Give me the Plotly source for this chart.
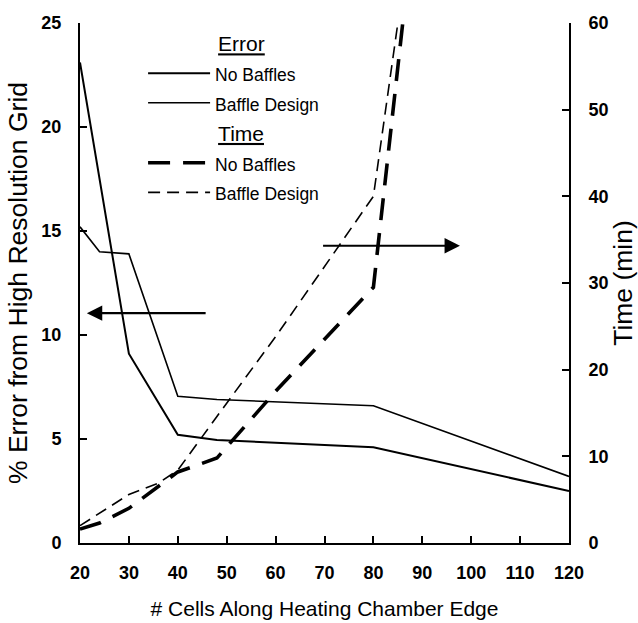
import plotly.graph_objects as go

# Error (% from high resolution grid), left axis
err_nb_x = [20, 30, 40, 48, 80, 120]
err_nb_y = [23.1, 9.1, 5.2, 4.95, 4.6, 2.5]
err_bd_x = [20, 24, 30, 40, 48, 80, 120]
err_bd_y = [15.2, 14.0, 13.9, 7.05, 6.9, 6.6, 3.2]

# Time (min), right axis
time_nb_x = [20, 24, 30, 40, 48, 60, 80, 86]
time_nb_y = [1.6, 2.3, 4.0, 8.2, 9.8, 17.5, 29.5, 60]
time_bd_x = [20, 30, 36, 40, 48, 60, 80, 85]
time_bd_y = [2.0, 5.6, 6.9, 8.4, 14.6, 23.8, 40.0, 60]

FONT = "Liberation Sans, Arial, sans-serif"
PAD = "&nbsp;" * 12

def lab(t):
    return '<span style="font-size:17.5px">' + t + '</span>'

fig = go.Figure()
fig.add_trace(go.Scatter(x=err_nb_x, y=err_nb_y, mode="lines", name=lab("No Baffles"),
                         line=dict(color="black", width=2.0),
                         legendgroup="err",
                         legendgrouptitle=dict(text=PAD + "<u>Error</u>")))
fig.add_trace(go.Scatter(x=err_bd_x, y=err_bd_y, mode="lines", name=lab("Baffle Design"),
                         line=dict(color="black", width=1.6),
                         legendgroup="err"))
fig.add_trace(go.Scatter(x=time_nb_x, y=time_nb_y, mode="lines", name=lab("No Baffles"),
                         line=dict(color="black", width=3.6, dash="22px,13px"),
                         legendgroup="time",
                         legendgrouptitle=dict(text=PAD + "<u>Time</u>"),
                         yaxis="y2"))
fig.add_trace(go.Scatter(x=time_bd_x, y=time_bd_y, mode="lines", name=lab("Baffle Design"),
                         line=dict(color="black", width=1.6, dash="12px,7px"),
                         legendgroup="time", yaxis="y2"))

# direction arrows
fig.add_annotation(x=21.4, y=11.05, ax=46, ay=11.05, xref="x", yref="y", axref="x", ayref="y",
                   text="", showarrow=True, arrowhead=2, arrowsize=1.4, arrowwidth=2.2, arrowcolor="black")
fig.add_annotation(x=97.7, y=34.3, ax=69.4, ay=34.3, xref="x", yref="y2", axref="x", ayref="y2",
                   text="", showarrow=True, arrowhead=2, arrowsize=1.4, arrowwidth=2.2, arrowcolor="black")

tickfont = dict(family=FONT, size=18, color="black", weight="bold")
xtitlefont = dict(family=FONT, size=21, color="black")
ytitlefont = dict(family=FONT, size=26.5, color="black")

fig.update_layout(
    width=638, height=623,
    margin=dict(l=80, r=69, t=23, b=80, autoexpand=False),
    paper_bgcolor="white", plot_bgcolor="white",
    font=dict(family=FONT, color="black"),
    xaxis=dict(range=[20, 120], dtick=10, tick0=20, showgrid=False, zeroline=False,
               showline=True, linecolor="black", linewidth=2, automargin=False,
               ticks="inside", ticklen=7, tickwidth=2, tickcolor="black",
               tickfont=tickfont, ticklabelstandoff=12,
               title=dict(text="# Cells Along Heating Chamber Edge", font=xtitlefont, standoff=20)),
    yaxis=dict(range=[0, 25], dtick=5, showgrid=False, zeroline=False,
               showline=True, linecolor="black", linewidth=2, automargin=False,
               ticks="inside", ticklen=7, tickwidth=2, tickcolor="black",
               tickfont=tickfont, ticklabelstandoff=13,
               title=dict(text="% Error from High Resolution Grid", font=ytitlefont, standoff=6)),
    yaxis2=dict(range=[0, 60], dtick=10, overlaying="y", side="right", showgrid=False, zeroline=False,
                showline=True, linecolor="black", linewidth=2, automargin=False,
                ticks="inside", ticklen=7, tickwidth=2, tickcolor="black",
                tickfont=tickfont, ticklabelstandoff=14,
                title=dict(text="Time (min)", font=ytitlefont, standoff=16)),
    legend=dict(x=0.129, y=1.0, xanchor="left", yanchor="top", bgcolor="rgba(0,0,0,0)",
                font=dict(family=FONT, size=20.5, color="black"),
                grouptitlefont=dict(family=FONT, size=21, color="black"),
                itemwidth=62,
                tracegroupgap=0, traceorder="grouped"),
    showlegend=True,
)

fig.write_html("out.html")
